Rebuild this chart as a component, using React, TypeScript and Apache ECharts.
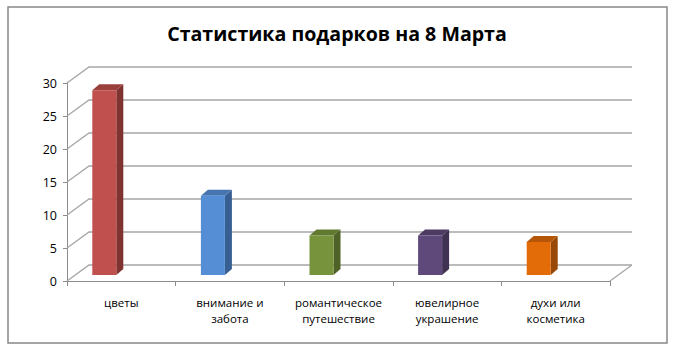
import React, { useEffect, useRef } from "react";
import * as echarts from "echarts";

const categories = [
  "цветы",
  "внимание и\nзабота",
  "романтическое\nпутешествие",
  "ювелирное\nукрашение",
  "духи или\nкосметика",
];
const values = [28, 12, 6, 6, 5];
const frontColors = ["#C0504D", "#558ED5", "#77933C", "#5F497A", "#E36C09"];
const sideColors = ["#7F3331", "#375F91", "#4F6228", "#3F3151", "#984807"];
const topColors = ["#9A3F3C", "#4675B0", "#617A30", "#4D3B63", "#B65608"];
const yTicks = [0, 5, 10, 15, 20, 25, 30];
const titleText = "Статистика подарков на 8 Марта";

const DX = 22; // back wall depth offset
const DY = -16;
const GRID_COLOR = "#A6A6A6";

export default function App() {
  const ref = useRef<HTMLDivElement>(null);
  useEffect(() => {
    document.body.style.margin = "0";
    const chart = echarts.init(ref.current!, null, { renderer: "svg" });
    const option: any = {
      animation: false,
      backgroundColor: "#FFFFFF",
      title: {
        text: titleText,
        left: "center",
        top: 18,
        textStyle: {
          fontFamily: "Open Sans",
          fontWeight: "bold",
          fontSize: 19.6,
          color: "#000",
        },
      },
      graphic: [
        {
          type: "rect",
          shape: { x: 8, y: 7, width: 659, height: 336 },
          style: { fill: "none", stroke: "#888888", lineWidth: 1.5 },
          z: -1,
        },
      ],
      grid: { left: 67, top: 83, width: 543, height: 198 },
      xAxis: {
        type: "category",
        data: categories,
        axisLine: { show: true, lineStyle: { color: "#8C8C8C", width: 1 } },
        axisTick: { show: true, length: 5, lineStyle: { color: "#8C8C8C" } },
        axisLabel: {
          interval: 0,
          margin: 13,
          fontFamily: "Open Sans",
          fontSize: 11.5,
          lineHeight: 16,
          color: "#000",
        },
        splitLine: { show: false },
      },
      yAxis: {
        type: "value",
        min: 0,
        max: 30,
        interval: 5,
        axisLine: { show: true, lineStyle: { color: "#8C8C8C", width: 1 } },
        axisTick: { show: true, length: 4, lineStyle: { color: "#8C8C8C" } },
        axisLabel: {
          margin: 10,
          fontFamily: "Open Sans",
          fontSize: 12.5,
          color: "#000",
        },
        splitLine: { show: false },
      },
      series: [
        {
          type: "custom",
          silent: true,
          data: yTicks.map((v) => [0, v]),
          renderItem: (params: any, api: any) => {
            const cs = params.coordSys;
            const v = api.value(1);
            const y = api.coord([0, v])[1];
            const x0 = cs.x;
            const x1 = cs.x + cs.width;
            const children: any[] = [
              {
                type: "polyline",
                shape: {
                  points: [
                    [x0, y],
                    [x0 + DX, y + DY],
                    [x1 + DX, y + DY],
                  ],
                },
                style: { stroke: GRID_COLOR, lineWidth: 1.3, fill: "none" },
              },
            ];
            if (v === 0) {
              children.push({
                type: "line",
                shape: { x1: x1, y1: y, x2: x1 + DX, y2: y + DY },
                style: { stroke: GRID_COLOR, lineWidth: 1.3 },
              });
            }
            return { type: "group", children };
          },
          z: 1,
        },
        {
          type: "custom",
          data: values.map((v, i) => [i, v]),
          renderItem: (params: any, api: any) => {
            const i = api.value(0);
            const v = api.value(1);
            const top = api.coord([i, v]);
            const base = api.coord([i, 0]);
            const c = top[0];
            const left = c - 29;
            const right = c - 5;
            const yT = top[1] - 6;
            const yB = base[1] - 6;
            const d = 7;
            const e = 6;
            return {
              type: "group",
              children: [
                {
                  type: "polygon",
                  shape: {
                    points: [
                      [right, yT],
                      [right + d, yT - e],
                      [right + d, yB - e],
                      [right, yB],
                    ],
                  },
                  style: { fill: sideColors[i] },
                },
                {
                  type: "polygon",
                  shape: {
                    points: [
                      [left, yT],
                      [right, yT],
                      [right + d, yT - e],
                      [left + d, yT - e],
                    ],
                  },
                  style: { fill: topColors[i] },
                },
                {
                  type: "rect",
                  shape: { x: left, y: yT, width: right - left, height: yB - yT },
                  style: { fill: frontColors[i] },
                },
              ],
            };
          },
          z: 2,
        },
      ],
    };
    chart.setOption(option);
    return () => chart.dispose();
  }, []);
  return <div ref={ref} style={{ width: 674, height: 353 }} />;
}
